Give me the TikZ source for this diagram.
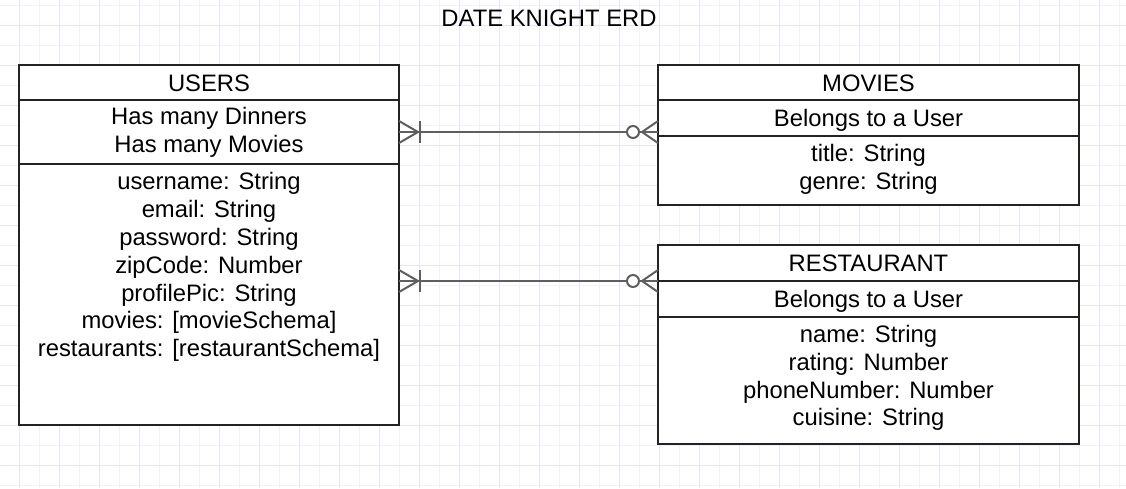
\documentclass[tikz,border=0pt]{standalone}
\usepackage{fontspec}
\setmainfont{Liberation Sans}
\usetikzlibrary{positioning}

\definecolor{gridminor}{RGB}{242,242,255}
\definecolor{gridmajor}{RGB}{229,229,255}
\definecolor{boxline}{RGB}{35,35,35}
\definecolor{relline}{RGB}{95,95,95}

\begin{document}
\begin{tikzpicture}[x=1pt, y=-1pt,
    cell/.style={draw=boxline, fill=white, line width=1.5pt, outer sep=0pt, inner sep=0pt, align=center},
    txt/.style={font=\fontsize{23.8}{27.8}\selectfont},
    oneline/.style={text height=17pt, text depth=0pt},
    rel/.style={draw=relline, line width=2pt}]

  \useasboundingbox (0,0) rectangle (1126,488);
  \fill[white] (0,0) rectangle (1126,488);

  %% grid
  \foreach \gx in {19,39,...,1119} \draw[gridminor, line width=1pt] (\gx,0) -- (\gx,488);
  \foreach \gy in {5,25,...,485} \draw[gridminor, line width=1pt] (0,\gy) -- (1126,\gy);
  \foreach \gx in {19,59,...,1119} \draw[gridmajor, line width=1pt] (\gx,0) -- (\gx,488);
  \foreach \gy in {25,65,...,465} \draw[gridmajor, line width=1pt] (0,\gy) -- (1126,\gy);

  \node[txt, oneline, inner sep=0pt] (title) at (549,17.7) {DATE KNIGHT ERD};

  %% USERS
  \node[cell, txt, oneline, minimum width=380, minimum height=35] (usersHead) at (209,82.5) {USERS};
  \node[cell, txt, minimum width=380, minimum height=64, below=0pt of usersHead] (usersRel) {Has many Dinners\\Has many Movies};
  \node[cell, minimum width=380, minimum height=261, below=0pt of usersRel] (usersAttr) {};
  \node[txt, align=center, anchor=north, inner sep=0pt] (usersList) at ([yshift=-8.5pt]usersAttr.north)
    {username: String\\email: String\\password: String\\zipCode: Number\\profilePic: String\\movies: [movieSchema]\\restaurants: [restaurantSchema]};

  %% MOVIES
  \node[cell, txt, oneline, minimum width=421, minimum height=35] (moviesHead) at (868.5,82.5) {MOVIES};
  \node[cell, txt, oneline, minimum width=421, minimum height=36, below=0pt of moviesHead] (moviesRel) {Belongs to a User};
  \node[cell, minimum width=421, minimum height=69, below=0pt of moviesRel] (moviesAttr) {};
  \node[txt, align=center, anchor=north, inner sep=0pt] (moviesList) at ([yshift=-8.5pt]moviesAttr.north)
    {title: String\\genre: String};

  %% RESTAURANT
  \node[cell, txt, oneline, minimum width=421, minimum height=36] (restHead) at (868.5,263) {RESTAURANT};
  \node[cell, txt, oneline, minimum width=421, minimum height=36, below=0pt of restHead] (restRel) {Belongs to a User};
  \node[cell, minimum width=421, minimum height=127, below=0pt of restRel] (restAttr) {};
  \node[txt, align=center, anchor=north, inner sep=0pt] (restList) at ([yshift=-8pt]restAttr.north)
    {name: String\\rating: Number\\phoneNumber: Number\\cuisine: String};

  \coordinate (mU) at (moviesRel.west |- usersRel.east);
  \coordinate (rU) at (restRel.north west);
  \coordinate (uR) at (usersAttr.east |- rU);

  %% USERS->MOVIES
  \draw[rel] (usersRel.east) -- (mU);
  \draw[rel] ([yshift=11pt]usersRel.east) -- ([xshift=19pt]usersRel.east) -- ([yshift=-11pt]usersRel.east);
  \draw[rel] ([xshift=21pt, yshift=11pt]usersRel.east) -- ([xshift=21pt, yshift=-11pt]usersRel.east);
  \draw[rel] ([yshift=11pt]mU) -- ([xshift=-16pt]mU) -- ([yshift=-11pt]mU);
  \draw[rel, fill=white] ([xshift=-25pt]mU) circle[radius=6pt];

  %% USERS->RESTAURANT
  \draw[rel] (uR) -- (rU);
  \draw[rel] ([yshift=11pt]uR) -- ([xshift=19pt]uR) -- ([yshift=-11pt]uR);
  \draw[rel] ([xshift=21pt, yshift=11pt]uR) -- ([xshift=21pt, yshift=-11pt]uR);
  \draw[rel] ([yshift=11pt]rU) -- ([xshift=-16pt]rU) -- ([yshift=-11pt]rU);
  \draw[rel, fill=white] ([xshift=-25pt]rU) circle[radius=6pt];
\end{tikzpicture}
\end{document}
